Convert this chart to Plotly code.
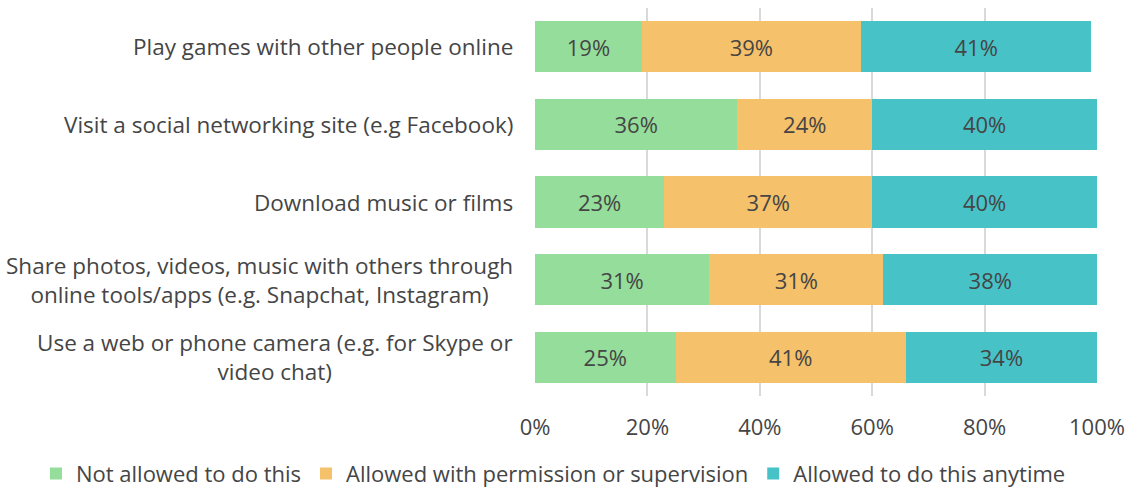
import plotly.graph_objects as go

categories = [
    "Play games with other people online",
    "Visit a social networking site (e.g Facebook)",
    "Download music or films",
    "Share photos, videos, music with others through<br>online tools/apps (e.g. Snapchat, Instagram)",
    "Use a web or phone camera (e.g. for Skype or<br>video chat)",
]
series_names = [
    "Not allowed to do this",
    "Allowed with permission or supervision",
    "Allowed to do this anytime",
]
not_allowed = [19, 36, 23, 31, 25]
with_permission = [39, 24, 37, 31, 41]
anytime = [41, 40, 40, 38, 34]
tick_vals = [0, 20, 40, 60, 80, 100]
tick_text = ["0%", "20%", "40%", "60%", "80%", "100%"]

colors = ["#95dd9b", "#f5c16a", "#47c3c8"]
FONT = "Open Sans"
TXT = "#454545"

fig = go.Figure()
for name, vals, col in zip(series_names, [not_allowed, with_permission, anytime], colors):
    fig.add_trace(go.Bar(
        y=categories, x=vals, name=name, orientation="h",
        marker=dict(color=col, line=dict(width=0)),
        text=[f"{v}%" for v in vals], textposition="inside",
        insidetextanchor="middle",
        textfont=dict(family=FONT, size=22, color=TXT),
        hoverinfo="skip",
    ))

for c in categories:
    fig.add_annotation(
        x=0, xref="paper", y=c, yref="y", text=c, showarrow=False,
        xanchor="right", align="center", xshift=-20,
        font=dict(family=FONT, size=22.5, color=TXT),
    )

fig.update_layout(
    barmode="stack", bargap=0.34,
    width=1131, height=488,
    margin=dict(l=535, r=34, t=8, b=92, autoexpand=False),
    paper_bgcolor="white", plot_bgcolor="white",
    font=dict(family=FONT, size=22, color=TXT),
    showlegend=True,
    legend=dict(orientation="h", x=-0.888, xref="paper", xanchor="left",
                y=-0.2, yref="paper", yanchor="middle",
                font=dict(family=FONT, size=22, color=TXT),
                itemwidth=30, traceorder="normal",
                bgcolor="rgba(0,0,0,0)"),
    xaxis=dict(range=[0, 100], tickvals=tick_vals, ticktext=tick_text,
               showgrid=True, gridcolor="#d9d9d9", gridwidth=2,
               zeroline=False, showline=False, ticks="",
               ticklabelstandoff=16,
               tickfont=dict(family=FONT, size=22, color=TXT),
               fixedrange=True),
    yaxis=dict(autorange="reversed", showticklabels=False, showgrid=False,
               zeroline=False, ticks="", fixedrange=True),
)

fig.write_html("out.html", config={"displayModeBar": False},
               post_script="document.body.style.margin='0';")
